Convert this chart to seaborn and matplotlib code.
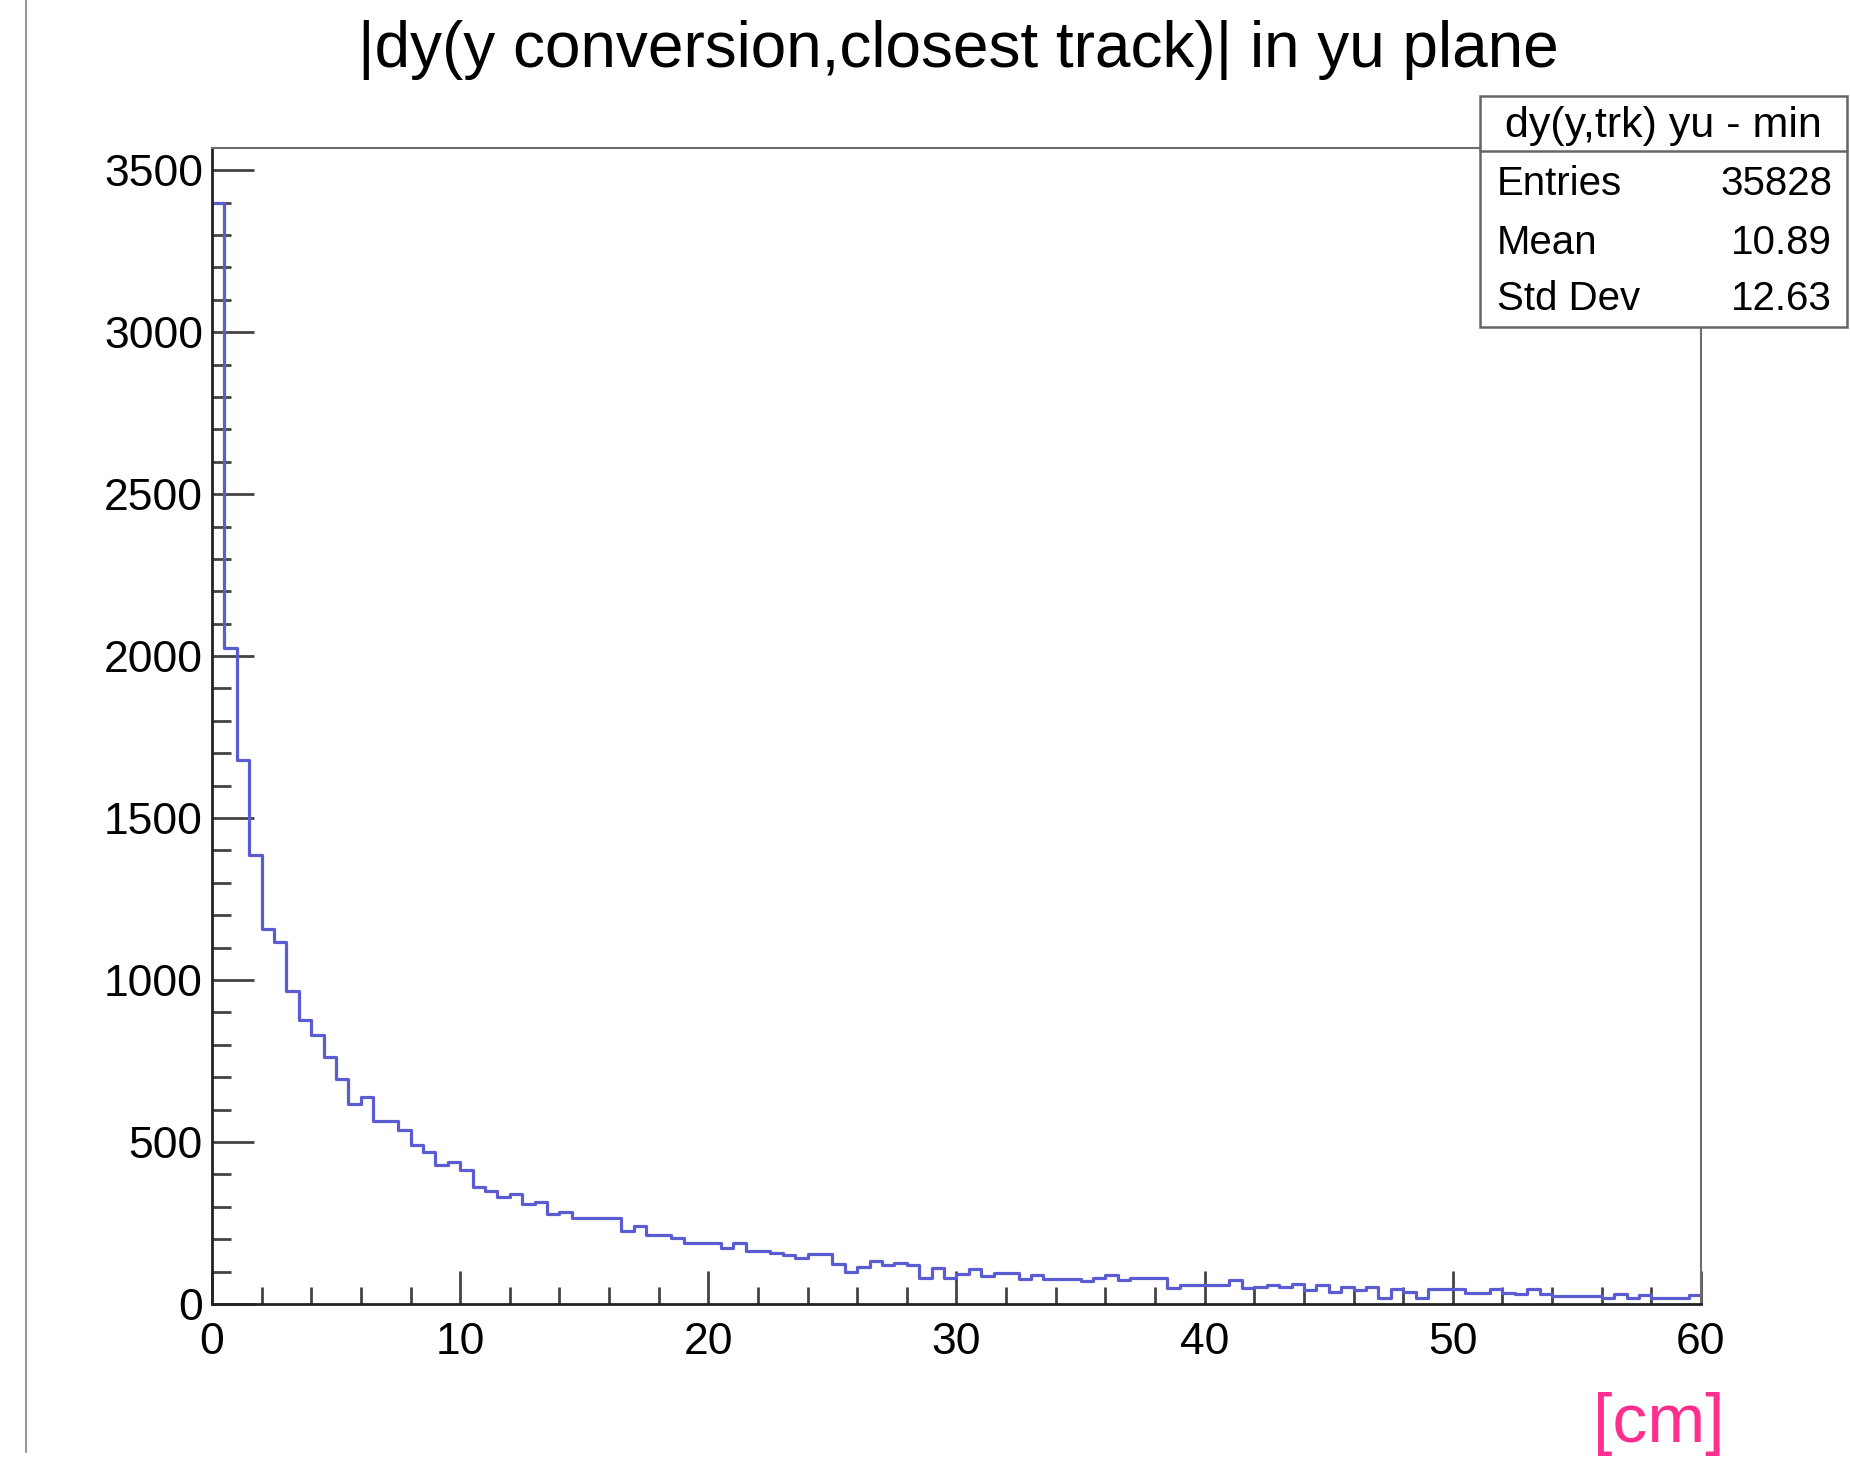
import numpy as np
import pandas as pd
import matplotlib
matplotlib.use("Agg")
import matplotlib.pyplot as plt
import seaborn as sns
from matplotlib.ticker import MultipleLocator
from matplotlib.patches import Rectangle
from matplotlib.lines import Line2D

# Histogram binning: 120 bins of 0.5 cm between 0 and 60 cm
x_min, x_max, bin_width = 0.0, 60.0, 0.5

# Bin contents, |dy| between conversion and closest track (yu plane)
counts = [
    3400, 2025, 1680, 1385, 1157, 1116, 965, 876, 829, 761,
    694, 617, 640, 566, 566, 536, 490, 468, 430, 439,
    413, 362, 350, 330, 339, 309, 315, 277, 283, 264,
    264, 264, 264, 225, 240, 212, 212, 204, 189, 189,
    189, 173, 189, 165, 165, 158, 150, 142, 153, 153,
    122, 98, 113, 134, 119, 127, 119, 80, 111, 80,
    93, 109, 86, 96, 96, 77, 89, 78, 78, 78,
    70, 80, 91, 74, 80, 80, 80, 49, 58, 58,
    58, 58, 75, 49, 52, 58, 52, 62, 43, 60,
    36, 52, 44, 52, 19, 46, 36, 19, 46, 46,
    46, 33, 33, 46, 33, 31, 46, 31, 24, 24,
    24, 24, 19, 31, 19, 27, 19, 19, 19, 27,
]

# Statistics box
stats_name = "dy(y,trk) yu - min"
stats_labels = ["Entries", "Mean", "Std Dev"]
stats_values = ["35828", "10.89", "12.63"]

title = "|dy(y conversion,closest track)| in yu plane"
x_unit = "[cm]"

sns.set_theme(style="white")
plt.rcParams["font.family"] = ["Liberation Sans", "DejaVu Sans"]
plt.rcParams["text.color"] = "black"

W, H = 1850, 1461
fig = plt.figure(figsize=(W / 100, H / 100), dpi=100)
ax = fig.add_axes([212 / W, 1 - 1304 / H, (1701 - 212) / W, (1304 - 147.5) / H])

edges = np.arange(x_min, x_max + bin_width / 2, bin_width)
centers = edges[:-1] + bin_width / 2
hist_df = pd.DataFrame({"dy": centers, "n": np.asarray(counts, dtype=float)})

sns.histplot(data=hist_df, x="dy", weights="n", bins=list(edges), element="step",
             fill=False, color="#5c5cd2", linewidth=2.3, ax=ax)

ax.set_xlim(x_min, x_max)
ax.set_ylim(0, 3570)
ax.set_xlabel("")
ax.set_ylabel("")

ax.xaxis.set_major_locator(MultipleLocator(10))
ax.xaxis.set_minor_locator(MultipleLocator(2))
ax.yaxis.set_major_locator(MultipleLocator(500))
ax.yaxis.set_minor_locator(MultipleLocator(100))

tick_col = "#444444"
ax.tick_params(axis="y", which="major", direction="in", length=30, width=2.0,
               color=tick_col, labelsize=32, pad=6.5, left=True, labelcolor="black")
ax.tick_params(axis="y", which="minor", direction="in", length=14, width=2.0,
               color=tick_col, left=True)
ax.tick_params(axis="x", which="major", direction="in", length=24, width=2.0,
               color=tick_col, labelsize=32, pad=13, bottom=True, labelcolor="black")
ax.tick_params(axis="x", which="minor", direction="in", length=12, width=2.0,
               color=tick_col, bottom=True)

for side in ("left", "bottom"):
    ax.spines[side].set_color("#222222")
    ax.spines[side].set_linewidth(2.0)
for side in ("top", "right"):
    ax.spines[side].set_color("#6d6d6d")
    ax.spines[side].set_linewidth(1.5)

# Title
fig.text(958 / W, 1 - 50 / H, title, ha="center", va="center", fontsize=46, color="black")

# Unit label under the x axis
fig.text(1725 / W, 1 - 1424 / H, x_unit, ha="right", va="center", fontsize=50,
         color="#ff2e8f")

# Statistics box
bx0, bx1, by0, by1 = 1480 / W, 1847 / W, 1 - 327 / H, 1 - 96 / H
fig.add_artist(Rectangle((bx0, by0), bx1 - bx0, by1 - by0, transform=fig.transFigure,
                         facecolor="white", edgecolor="#666666", linewidth=1.8, zorder=10))
fig.add_artist(Line2D([bx0, bx1], [1 - 151 / H, 1 - 151 / H], transform=fig.transFigure,
                      color="#666666", linewidth=1.8, zorder=11))
fig.text((bx0 + bx1) / 2, 1 - 126 / H, stats_name, ha="center", va="center",
         fontsize=31, color="black", zorder=12)
row_y = [184, 243, 299]
for lab, val, yy in zip(stats_labels, stats_values, row_y):
    fig.text(1497 / W, 1 - yy / H, lab, ha="left", va="center", fontsize=29,
             color="black", zorder=12)
    fig.text(1832 / W, 1 - yy / H, val, ha="right", va="center", fontsize=29,
             color="black", zorder=12)

# Thin vertical rule at the left edge
fig.add_artist(Line2D([26 / W, 26 / W], [1 - 1452 / H, 1.0], transform=fig.transFigure,
                      color="#9a9a9a", linewidth=1.5))

fig.savefig("out.png", dpi=100, facecolor="white")
